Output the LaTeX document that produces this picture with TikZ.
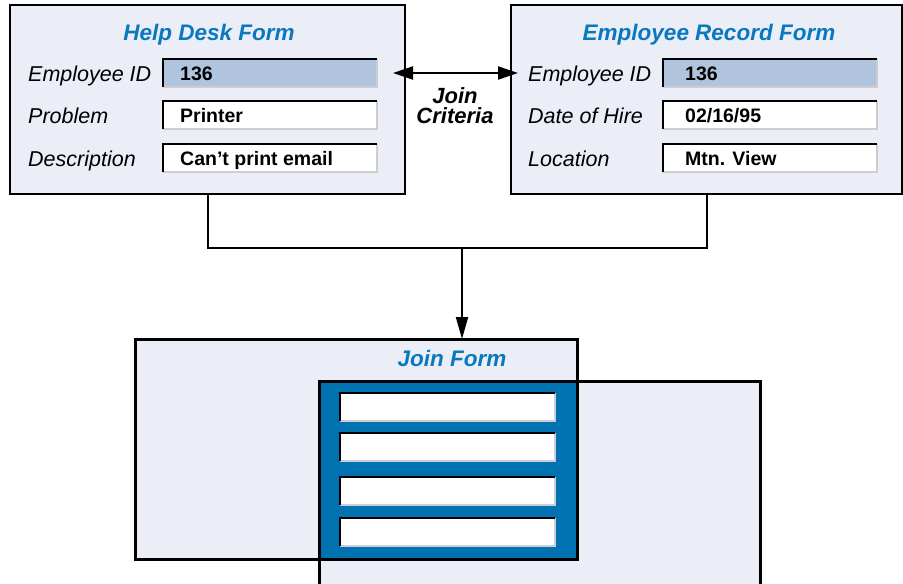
\documentclass[tikz,border=0pt]{standalone}
\usepackage{fontspec}
\setmainfont{Liberation Sans}
\usetikzlibrary{arrows.meta}
\definecolor{formbg}{RGB}{235,238,247}
\definecolor{keyblue}{RGB}{176,196,222}
\definecolor{titleblue}{RGB}{10,120,190}
\definecolor{joinblue}{RGB}{0,114,178}
\definecolor{edgegray}{RGB}{205,205,210}

% an input cell: filled box, dark top/left edge, light bottom/right edge
\newcommand\formcell[5]{% name, x, y, width, fill
  \node[fieldcell, minimum width=#4pt, fill=#5] (#1) at (#2,#3) {};
  \draw[edgegray, line width=2.5pt] (#1.north east) -- (#1.south east) -- (#1.south west);
  \draw[black, line width=2.8pt] (#1.south west) -- (#1.north west) -- (#1.north east);
}

\begin{document}
\begin{tikzpicture}[x=1pt,y=-1pt,
  formbox/.style={draw=black, fill=formbg, line width=2.5pt, anchor=north west, inner sep=0pt, outer sep=0pt},
  joinbox/.style={formbox, line width=3pt},
  fieldcell/.style={anchor=north west, inner sep=0pt, outer sep=0pt, minimum height=28pt},
  formtitle/.style={font=\fontsize{22.5}{24}\selectfont\bfseries\itshape, text=titleblue, anchor=base, inner sep=0pt},
  fieldlabel/.style={font=\fontsize{21.5}{24}\selectfont\itshape, anchor=base west, inner sep=0pt},
  fieldvalue/.style={font=\fontsize{19.5}{22}\selectfont\bfseries, anchor=base west, inner sep=0pt},
  criteria/.style={font=\fontsize{22}{20}\selectfont\bfseries\itshape, anchor=base, inner sep=0pt},
  link/.style={line width=2pt, draw=black},
  tip/.style={Triangle[length=20pt,width=13pt]},
]
\useasboundingbox (0,0) rectangle (903,584);
\clip (0,0) rectangle (903,584);

% ---- Help Desk Form
\node[formbox, minimum width=395pt, minimum height=189pt] (help) at (10,5) {};
\node[formtitle] (helptitle) at (209,40) {Help Desk Form};
\formcell{hdid}{163}{59}{214}{keyblue}
\formcell{hdprob}{163}{101}{214}{white}
\formcell{hddesc}{163}{144}{214}{white}
\node[fieldlabel] (hdlab1) at (28,81) {Employee ID};
\node[fieldlabel] (hdlab2) at (28,123) {Problem};
\node[fieldlabel] (hdlab3) at (28,166) {Description};
\node[fieldvalue] (hdval1) at (180,80) {136};
\node[fieldvalue] (hdval2) at (180,122) {Printer};
\node[fieldvalue] (hdval3) at (180,165) {Can’t print email};

% ---- Employee Record Form
\node[formbox, minimum width=391pt, minimum height=189pt] (emp) at (511,5) {};
\node[formtitle] (emptitle) at (709,40) {Employee Record Form};
\formcell{erid}{663}{59}{214}{keyblue}
\formcell{erdate}{663}{101}{214}{white}
\formcell{erloc}{663}{144}{214}{white}
\node[fieldlabel] (erlab1) at (528,81) {Employee ID};
\node[fieldlabel] (erlab2) at (528,123) {Date of Hire};
\node[fieldlabel] (erlab3) at (528,166) {Location};
\node[fieldvalue] (erval1) at (685,80) {136};
\node[fieldvalue] (erval2) at (685,122) {02/16/95};
\node[fieldvalue] (erval3) at (685,165) {Mtn. View};

% ---- join criteria link between the two key fields
\draw[link, {Triangle[length=20pt,width=13pt]}-{Triangle[length=20pt,width=13pt]}]
  ([xshift=16pt]hdid.east) -- ([xshift=-10pt]erlab1.west |- hdid.east);
\node[criteria] (jc1) at (455,103) {Join};
\node[criteria] (jc2) at (455,123) {Criteria};

% ---- Join Form: two overlapping panels, shared region in blue
\node[joinbox, minimum width=442pt, minimum height=220pt] (joinA) at (135,339) {};
\node[joinbox, minimum width=441pt, minimum height=215pt] (joinB) at (319,381) {};
\fill[joinblue] (joinB.north west) rectangle (joinA.south east);
\draw[line width=3pt] (joinA.north west) rectangle (joinA.south east);
\draw[line width=3pt] (joinB.north west) rectangle (joinB.south east);
\node[formtitle] (jointitle) at (452,366) {Join Form};
\formcell{jf1}{340}{393}{215}{white}
\formcell{jf2}{340}{433}{215}{white}
\formcell{jf3}{340}{477}{215}{white}
\formcell{jf4}{340}{518}{215}{white}

% ---- both forms feed the join form
\coordinate (merge) at (462,248);
\draw[link] (help.south) |- (merge) -| (emp.south);
\draw[link, -{Triangle[length=22pt,width=12pt]}] (merge) -- (merge |- joinA.north);
\end{tikzpicture}
\end{document}
